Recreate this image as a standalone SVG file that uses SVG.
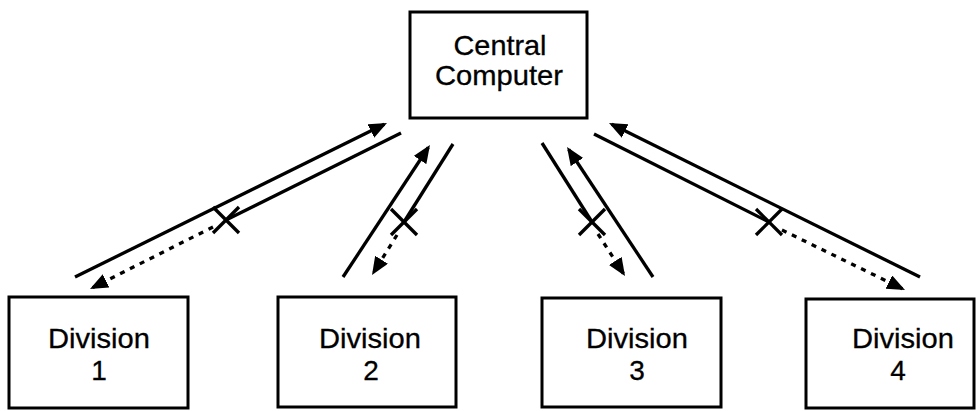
<svg xmlns="http://www.w3.org/2000/svg" width="976" height="411" viewBox="0 0 976 411">
<style>
.box{fill:#fff;stroke:#000;stroke-width:3}
.lbl{font-family:"Liberation Sans",Arial,sans-serif;font-size:28px;fill:#000;stroke:#000;stroke-width:0.3;text-anchor:middle}
.ln{stroke:#000;stroke-width:3.3;fill:none}
.dot{stroke:#000;stroke-width:3.3;fill:none;stroke-dasharray:5 6}
.arr{marker-end:url(#ah)}
</style>
<defs>
<marker id="ah" markerUnits="userSpaceOnUse" markerWidth="20" markerHeight="16" refX="15" refY="7.5" orient="auto">
<path d="M0,0 L18,7.5 L0,15 z" fill="#000"/>
</marker>
</defs>
<rect width="976" height="411" fill="#fff"/>
<g id="connectors">
<!-- Division 1 -->
<line class="ln arr" x1="75" y1="277" x2="384.3" y2="124.3"/>
<line class="ln" x1="401" y1="133" x2="226" y2="220"/>
<line class="ln" x1="213" y1="207" x2="239" y2="233"/>
<line class="ln" x1="239" y1="207" x2="213" y2="233"/>
<line class="dot arr" x1="213" y1="227" x2="92.7" y2="287.6"/>
<!-- Division 2 -->
<line class="ln arr" x1="343" y1="277" x2="428.3" y2="147.5"/>
<line class="ln" x1="453" y1="144" x2="404" y2="222"/>
<line class="ln" x1="391" y1="209" x2="417" y2="235"/>
<line class="ln" x1="417" y1="209" x2="391" y2="235"/>
<line class="dot arr" x1="397" y1="235" x2="373.6" y2="272.5"/>
<!-- Division 3 -->
<line class="ln arr" x1="653" y1="277" x2="568.7" y2="149.5"/>
<line class="ln" x1="542" y1="143" x2="592" y2="222"/>
<line class="ln" x1="579" y1="209" x2="605" y2="235"/>
<line class="ln" x1="605" y1="209" x2="579" y2="235"/>
<line class="dot arr" x1="598" y1="234" x2="623.4" y2="273.5"/>
<!-- Division 4 -->
<line class="ln arr" x1="920" y1="277" x2="611.7" y2="124.3"/>
<line class="ln" x1="594" y1="134" x2="769" y2="222"/>
<line class="ln" x1="756" y1="209" x2="782" y2="235"/>
<line class="ln" x1="782" y1="209" x2="756" y2="235"/>
<line class="dot arr" x1="782" y1="230" x2="902.3" y2="288.7"/>
</g>
<g id="central">
<rect class="box" x="410" y="12" width="177" height="106"/>
<text class="lbl" x="500" y="55" textLength="93" lengthAdjust="spacingAndGlyphs">Central</text>
<text class="lbl" x="499" y="85" textLength="128" lengthAdjust="spacingAndGlyphs">Computer</text>
</g>
<g id="division1">
<rect class="box" x="9" y="297" width="179" height="111"/>
<text class="lbl" x="99" y="348" textLength="102" lengthAdjust="spacingAndGlyphs">Division</text>
<text class="lbl" x="99" y="380">1</text>
</g>
<g id="division2">
<rect class="box" x="278" y="297" width="178" height="110"/>
<text class="lbl" x="370" y="348" textLength="102" lengthAdjust="spacingAndGlyphs">Division</text>
<text class="lbl" x="371" y="380">2</text>
</g>
<g id="division3">
<rect class="box" x="542" y="298" width="179" height="109"/>
<text class="lbl" x="637" y="348" textLength="102" lengthAdjust="spacingAndGlyphs">Division</text>
<text class="lbl" x="637" y="380">3</text>
</g>
<g id="division4">
<rect class="box" x="806" y="299" width="168" height="109"/>
<text class="lbl" x="903" y="348" textLength="102" lengthAdjust="spacingAndGlyphs">Division</text>
<text class="lbl" x="898" y="380">4</text>
</g>
</svg>
